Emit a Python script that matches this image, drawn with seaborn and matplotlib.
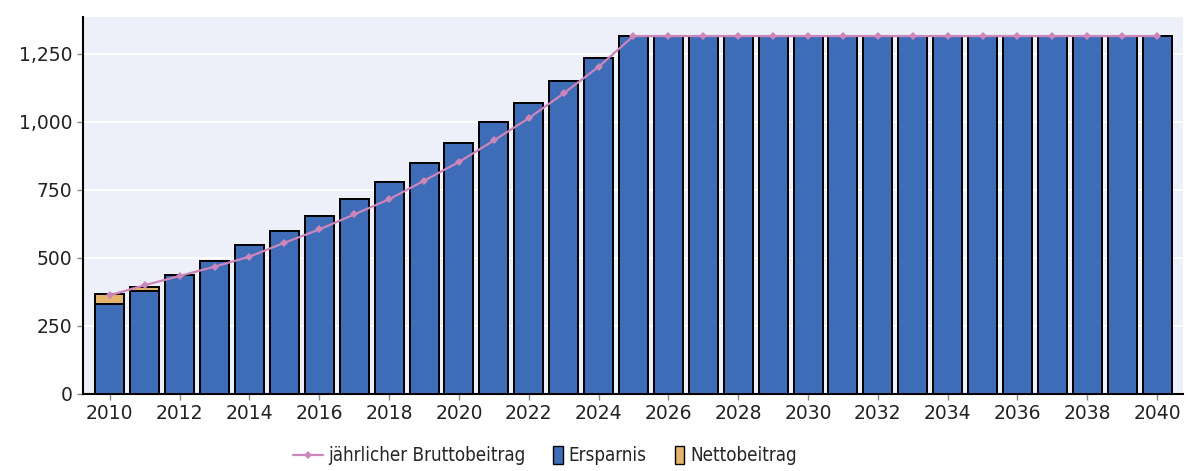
import numpy as np
import pandas as pd
from matplotlib import pyplot as plt
from matplotlib import font_manager
from matplotlib.patches import Rectangle
from matplotlib.lines import Line2D
from matplotlib.legend_handler import HandlerPatch
from matplotlib.ticker import StrMethodFormatter
import seaborn as sns

sns.set_style('darkgrid', {'axes.facecolor': '#EDF0F8', 'grid.color': 'white'})
plt.rcParams['font.family'] = ['DejaVu Sans']

years = list(range(2010, 2041))
ersparnis = [330, 378, 437, 489, 546, 601, 656, 718, 781, 851, 921, 999, 1068, 1152, 1235] + [1316] * 16
netto = [37, 17] + [0] * 29
brutto = [363, 400, 434, 468, 505, 556, 605, 660, 716, 784, 853, 932, 1014, 1105, 1203] + [1316] * 16
xtick_labels = [str(y) for y in range(2010, 2041, 2)]
ytick_values = [0, 250, 500, 750, 1000, 1250]

df = pd.DataFrame({'Jahr': years, 'Ersparnis': ersparnis, 'Netto': netto, 'Brutto': brutto})
df['Gesamt'] = df['Ersparnis'] + df['Netto']

c_blue = '#3F6CB6'
c_tan = '#E2B46C'
c_line = '#CC86BA'

fig = plt.figure(figsize=(11.92, 4.71), dpi=100)
ax = fig.add_axes([0.0696, 0.1635, 0.9228, 0.8004])

# gestapelt: erst Gesamt (Netto-Farbe), dann Ersparnis darüber
sns.barplot(data=df, x='Jahr', y='Gesamt', native_scale=True, color=c_tan, saturation=1,
            width=0.83, edgecolor='black', linewidth=1.4, ax=ax, zorder=2)
sns.barplot(data=df, x='Jahr', y='Ersparnis', native_scale=True, color=c_blue, saturation=1,
            width=0.83, edgecolor='black', linewidth=1.4, ax=ax, zorder=3)
sns.lineplot(data=df, x='Jahr', y='Brutto', color=c_line, marker='D', markersize=4,
             markeredgewidth=0, linewidth=1.6, ax=ax, zorder=4)

ax.set_xlim(2009.23, 2040.74)
ax.set_ylim(0, 1386)
ax.set_xticks(range(2010, 2041, 2))
ax.set_xticklabels(xtick_labels)
ax.set_yticks(ytick_values)
ax.yaxis.set_major_formatter(StrMethodFormatter('{x:,.0f}'))
ax.grid(axis='x', visible=False)
ax.grid(axis='y', color='white', linewidth=1.5)
ax.set_xlabel('')
ax.set_ylabel('')
ax.tick_params(axis='both', labelsize=13.5, colors='#222222', length=4, width=1,
               bottom=True, left=True)
ax.tick_params(axis='both', color='#888888')
for s in ['top', 'right']:
    ax.spines[s].set_visible(False)
for s in ['left', 'bottom']:
    ax.spines[s].set_visible(True)
    ax.spines[s].set_color('black')
    ax.spines[s].set_linewidth(1.5)


def narrow_box(legend, orig_handle, xdescent, ydescent, width, height, fontsize):
    w = height * 0.75
    return Rectangle((width - w - xdescent, -ydescent - 2), w, height + 4)


handles = [
    Line2D([], [], color=c_line, marker='D', markersize=4, markeredgewidth=0, linewidth=1.6),
    Rectangle((0, 0), 1, 1, facecolor=c_blue, edgecolor='black', linewidth=1),
    Rectangle((0, 0), 1, 1, facecolor=c_tan, edgecolor='black', linewidth=1),
]
labels = ['jährlicher Bruttobeitrag', 'Ersparnis', 'Nettobeitrag']
leg_font = font_manager.FontProperties(family='DejaVu Sans', stretch='condensed', size=13.5)
fig.legend(handles, labels, loc='center', bbox_to_anchor=(0.457, 0.032), ncol=3,
           frameon=False, prop=leg_font, handlelength=1.6, handletextpad=0.3,
           columnspacing=0.4,
           handler_map={Rectangle: HandlerPatch(patch_func=narrow_box)})

fig.savefig('out.png', dpi=100)
